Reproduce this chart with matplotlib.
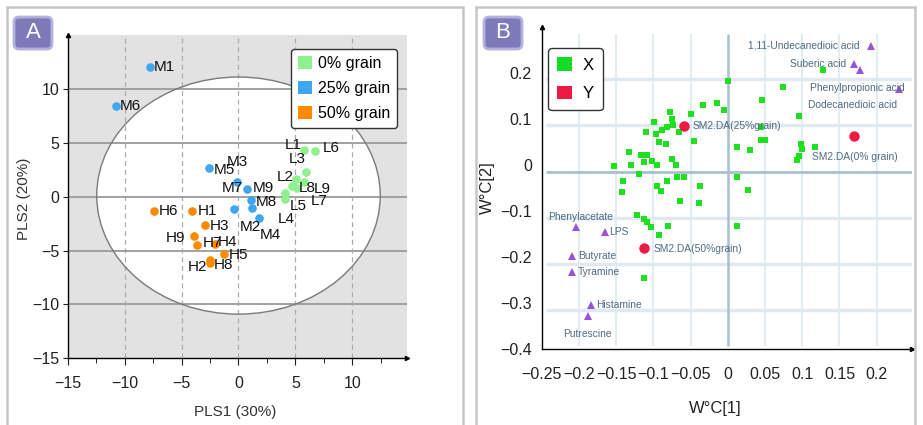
import matplotlib
matplotlib.use('Agg')
import matplotlib.pyplot as plt
from matplotlib.patches import Ellipse, FancyBboxPatch, Rectangle, Patch
from matplotlib.transforms import IdentityTransform

plt.rcParams['font.family'] = ['Liberation Sans', 'DejaVu Sans']

# ---- panel A: PLS-DA score plot ----
low_names = ['L1', 'L6', 'L3', 'L2', 'L9', 'L7', 'L8', 'L5', 'L4']
low_x = [5.79, 6.75, 5.96, 5.09, 5.79, 4.74, 5.15, 4.12, 4.12]
low_y = [4.35, 4.20, 2.33, 1.62, 1.40, 1.00, 0.78, 0.37, -0.24]

mid_names = ['M1', 'M6', 'M5', 'M3', 'M7', 'M9', 'M8', 'M2', 'M4']
mid_x = [-7.8, -10.8, -2.6, -0.1, 0.76, 1.11, 1.17, -0.41, 1.78]
mid_y = [12.06, 8.45, 2.65, 1.37, 0.75, -0.31, -1.05, -1.15, -1.95]

high_names = ['H6', 'H1', 'H3', 'H9', 'H7', 'H4', 'H5', 'H2', 'H8']
high_x = [-7.4, -4.1, -2.98, -3.92, -3.63, -2.08, -1.26, -2.54, -2.52]
high_y = [-1.3, -1.33, -2.64, -3.63, -4.5, -4.44, -5.28, -5.84, -6.2]

group_labels = ['0% grain', '25% grain', '50% grain']
group_colors = ['#8ef08e', '#3fa7f0', '#ff8a00']

# label offsets in pixels (dx, dy)
score_offsets = {
    'M1': (4, 0), 'M6': (4.6, 0), 'M5': (4.4, -2.4), 'M3': (-10.3, 20.3),
    'M7': (-25.7, 1), 'M9': (1.6, 12.3), 'M8': (4.4, 6.3), 'M2': (6, -17.7),
    'M4': (1, -17.3),
    'H6': (4.6, 0), 'H1': (6, 0), 'H3': (5.3, -0.7), 'H9': (-28.3, -2),
    'H7': (5.3, 1.7), 'H4': (3, 2.6), 'H5': (4.6, -1.7), 'H2': (-22.3, -7.4),
    'H8': (4, -1.7),
    'L1': (-20, 4.3), 'L6': (7.3, 3.4), 'L3': (-17.3, 12.4), 'L2': (-20, 2.6),
    'L8': (1.6, 0), 'L9': (9.3, -7.6), 'L7': (18, -15), 'L5': (4.3, -13),
    'L4': (-7.3, -20),
}

# ---- panel B: loading plot ----
xvar_x = [0.000, 0.074, 0.128, 0.046, -0.034, -0.014, -0.005, -0.049, 0.095,
          0.044, 0.044, 0.050, 0.012, 0.030, -0.046, 0.098, 0.100, 0.095,
          0.093, 0.117, 0.0125, 0.027, -0.038, -0.039, -0.064, 0.013, -0.113,
          -0.080, -0.092, -0.122, -0.113, -0.108, -0.103,
          -0.0777, -0.0754, -0.0991, -0.0732, -0.1103, -0.0969, -0.0879,
          -0.0813, -0.0656, -0.0924, -0.0835, -0.1326, -0.1170, -0.1080,
          -0.1013, -0.1125, -0.0746, -0.0701, -0.1527, -0.1304, -0.0946,
          -0.1192, -0.1402, -0.1415, -0.0946, -0.0902, -0.0821, -0.0679,
          -0.0589]
xvar_y = [0.182, 0.170, 0.207, 0.140, 0.131, 0.135, 0.120, 0.111, 0.107,
          0.082, 0.054, 0.054, 0.038, 0.033, 0.051, 0.046, 0.035, 0.020,
          0.011, 0.038, -0.027, -0.054, -0.047, -0.083, -0.078, -0.132, -0.246,
          -0.132, -0.152, -0.110, -0.117, -0.125, -0.136,
          0.1145, 0.1000, 0.0928, 0.0855, 0.0710, 0.0674, 0.0746,
          0.0819, 0.0710, 0.0493, 0.0457, 0.0275, 0.0203, 0.0203,
          0.0094, 0.0058, 0.0130, -0.0014, -0.0036, -0.0014, -0.0014,
          -0.0196, -0.0341, -0.0594, -0.0449, -0.0558, -0.0355, -0.0254,
          -0.0254]

yvar_names = ['SM2.DA(25%grain)', 'SM2.DA(0% grain)', 'SM2.DA(50%grain)']
yvar_x = [-0.059, 0.170, -0.112]
yvar_y = [0.084, 0.062, -0.180]

metab_names = ['1,11-Undecanedioic acid', 'Suberic acid', 'Dodecanedioic acid',
               'Phenylpropionic acid', 'Phenylacetate', 'LPS', 'Butyrate',
               'Tyramine', 'Histamine', 'Putrescine']
metab_x = [0.193, 0.170, 0.178, 0.230, -0.204, -0.165, -0.209, -0.209, -0.184, -0.1875]
metab_y = [0.259, 0.218, 0.207, 0.165, -0.134, -0.146, -0.199, -0.232, -0.304, -0.328]

# (dx, dy, ha) in pixels
loading_offsets = {
    '1,11-Undecanedioic acid': (-11.7, 0, 'right'),
    'Suberic acid': (-8.3, 0.7, 'right'),
    'Dodecanedioic acid': (36.7, -35.7, 'right'),
    'Phenylpropionic acid': (5.7, 1, 'right'),
    'Phenylacetate': (-27.7, 9.3, 'left'),
    'LPS': (4.3, 0, 'left'),
    'Butyrate': (5.7, 0, 'left'),
    'Tyramine': (5.7, 0, 'left'),
    'Histamine': (5, 0, 'left'),
    'Putrescine': (-0.7, -17.7, 'center'),
    'SM2.DA(25%grain)': (9, 0, 'left'),
    'SM2.DA(0% grain)': (-42.3, -20.7, 'left'),
    'SM2.DA(50%grain)': (8.7, -1, 'left'),
}

b_xticks = [-0.25, -0.2, -0.15, -0.1, -0.05, 0, 0.05, 0.1, 0.15, 0.2]
b_xticklabels = ['\u22120.25', '\u22120.2', '\u22120.15', '\u22120.1', '\u22120.05',
                 '0', '0.05', '0.1', '0.15', '0.2']
b_yticks = [-0.4, -0.3, -0.2, -0.1, 0, 0.1, 0.2]
b_yticklabels = ['\u22120.4', '\u22120.3', '\u22120.2', '\u22120.1', '0', '0.1', '0.2']

W, H = 923, 425
fig = plt.figure(figsize=(W / 100, H / 100), dpi=100)

# panel frames
for x0, x1 in [(7, 463), (476, 915)]:
    fig.add_artist(Rectangle((x0 / W, -0.05), (x1 - x0) / W, 1.05 - 7 / H,
                             transform=fig.transFigure, fill=False,
                             edgecolor='#c6c6c6', lw=1.8))

# panel badges
for letter, bx in [('A', 14), ('B', 484)]:
    fig.add_artist(FancyBboxPatch((bx, H - 49), 38, 32,
                                  boxstyle='round,pad=0,rounding_size=5',
                                  transform=IdentityTransform(),
                                  facecolor='#7e7aba', edgecolor='#b4b1dd', lw=2))
    fig.text((bx + 19) / W, (H - 33) / H, letter, color='white', fontsize=16,
             ha='center', va='center')

# ================= panel A =================
ax1 = fig.add_axes([67.7 / W, (H - 358.3) / H, 339.3 / W, 323.3 / H])
ax1.set_facecolor('#e2e2e2')
ax1.set_xlim(-15, 14.8)
ax1.set_ylim(-15, 15)

ax1.add_patch(Ellipse((0, 0.1), 24.9, 22.0, facecolor='white', edgecolor='none', zorder=0.5))
for v in [-10, -5, 0, 5, 10]:
    ax1.axhline(v, color='#9a9a9a', lw=1.3, zorder=1)
    ax1.axvline(v, color='#ababab', lw=0.9, ls=(0, (4, 3)), zorder=1)
ax1.add_patch(Ellipse((0, 0.1), 24.9, 22.0, facecolor='none', edgecolor='#7a7a7a',
                      lw=1.0, zorder=2))

groups = [(low_names, low_x, low_y), (mid_names, mid_x, mid_y), (high_names, high_x, high_y)]
for (names, xs, ys), col in zip(groups, group_colors):
    ax1.plot(xs, ys, 'o', color=col, markersize=6.2, markeredgewidth=0, zorder=3)
    for n, x, y in zip(names, xs, ys):
        dx, dy = score_offsets[n]
        ax1.annotate(n, (x, y), xytext=(dx, dy), textcoords='offset pixels',
                     ha='left', va='center', fontsize=11, color='#111111', zorder=4)

for s in ['top', 'right']:
    ax1.spines[s].set_visible(False)
for s in ['left', 'bottom']:
    ax1.spines[s].set_linewidth(1.0)
ax1.plot(1, 0, '>k', transform=ax1.transAxes, clip_on=False, markersize=3)
ax1.plot(0, 1, '^k', transform=ax1.transAxes, clip_on=False, markersize=3)

ax1.set_xticks([-15, -10, -5, 0, 5, 10])
ax1.set_xticks([-12.5, -7.5, -2.5, 2.5, 7.5, 12.5], minor=True)
ax1.set_yticks([-15, -10, -5, 0, 5, 10])
ax1.tick_params(axis='x', which='major', length=5, pad=8, labelsize=11.5, colors='#222222')
ax1.tick_params(axis='x', which='minor', length=3.5)
ax1.tick_params(axis='y', which='major', length=3.5, pad=2.5, labelsize=11.5, colors='#222222')

ax1.set_xlabel('PLS1 (30%)', fontsize=11, color='#333333')
ax1.set_ylabel('PLS2 (20%)', fontsize=11, color='#333333')
ax1.xaxis.set_label_coords(0.494, -0.144)
ax1.yaxis.set_label_coords(-0.109, 0.493)

handles = [Patch(facecolor=c, edgecolor='none', label=l) for c, l in zip(group_colors, group_labels)]
leg = ax1.legend(handles=handles, loc='upper right', bbox_to_anchor=(0.9705, 0.957),
                 fontsize=11.5, frameon=True, fancybox=True, edgecolor='#333333',
                 framealpha=1, handlelength=0.85, handleheight=0.85,
                 handletextpad=0.35, labelspacing=0.62, borderpad=0.45,
                 borderaxespad=0)
leg.get_frame().set_linewidth(1.0)

# ================= panel B =================
ax2 = fig.add_axes([541.7 / W, (H - 349) / H, 370 / W, 322.3 / H])
ax2.set_xlim(-0.249, 0.247)
ax2.set_ylim(-0.4, 0.3)

# grid of the loading plot (its zero line sits slightly below the tick zero)
grid_y0 = -0.0145
for gx in [-0.2, -0.15, -0.1, -0.05, 0.05, 0.1, 0.15, 0.2]:
    ax2.vlines(gx, -0.393, 0.285, color='#e3ecf1', lw=1.5, zorder=1)
for k in [-3, -2, -1, 1, 2]:
    ax2.hlines(grid_y0 + 0.1 * k, -0.244, 0.249, color='#dfe9ef', lw=2.5, zorder=1)
ax2.vlines(0, -0.393, 0.285, color='#a9c0cd', lw=1.8, zorder=1.5)
ax2.hlines(grid_y0, -0.244, 0.249, color='#a9c0cd', lw=2.0, zorder=1.5)

ax2.plot(xvar_x, xvar_y, 's', color='#1fe01f', markersize=4.2, markeredgewidth=0, zorder=3)
ax2.plot(yvar_x, yvar_y, 'o', color='#ee1a44', markersize=7.5, markeredgewidth=0, zorder=4)
ax2.plot(metab_x, metab_y, '^', color='#9b52d6', markersize=5.5, markeredgewidth=0, zorder=4)

for n, x, y in list(zip(metab_names, metab_x, metab_y)) + list(zip(yvar_names, yvar_x, yvar_y)):
    dx, dy, ha = loading_offsets[n]
    ax2.annotate(n, (x, y), xytext=(dx, dy), textcoords='offset pixels',
                 ha=ha, va='center', fontsize=7.4, color='#4f6b82', zorder=5)

for s in ['top', 'right']:
    ax2.spines[s].set_visible(False)
for s in ['left', 'bottom']:
    ax2.spines[s].set_linewidth(1.0)
ax2.plot(1, 0, '>k', transform=ax2.transAxes, clip_on=False, markersize=3)
ax2.plot(0, 1, '^k', transform=ax2.transAxes, clip_on=False, markersize=3)

ax2.set_xticks(b_xticks)
ax2.set_xticklabels(b_xticklabels)
ax2.set_yticks(b_yticks)
ax2.set_yticklabels(b_yticklabels)
ax2.tick_params(axis='x', length=0, pad=13, labelsize=11.5, colors='#222222')
ax2.tick_params(axis='y', length=0, pad=7, labelsize=11.5, colors='#222222')

ax2.set_xlabel('W\u00b0C[1]', fontsize=12, color='#222222')
ax2.set_ylabel('W\u00b0C[2]', fontsize=12, color='#222222')
ax2.xaxis.set_label_coords(0.468, -0.161)
ax2.yaxis.set_label_coords(-0.126, 0.5)

leg2_handles = [Patch(facecolor='#11dd22', edgecolor='none', label='X'),
                Patch(facecolor='#ee1a44', edgecolor='none', label='Y')]
leg2 = ax2.legend(handles=leg2_handles, loc='upper left',
                  bbox_to_anchor=((548.3 - 541.7) / 370, (349 - 48.3) / 322.3),
                  fontsize=12, frameon=True, fancybox=True, edgecolor='#333333',
                  framealpha=1, handlelength=0.9, handleheight=0.9,
                  handletextpad=0.6, labelspacing=0.75, borderpad=0.55,
                  borderaxespad=0)
leg2.get_frame().set_linewidth(1.0)

fig.savefig('out.png', dpi=100)
